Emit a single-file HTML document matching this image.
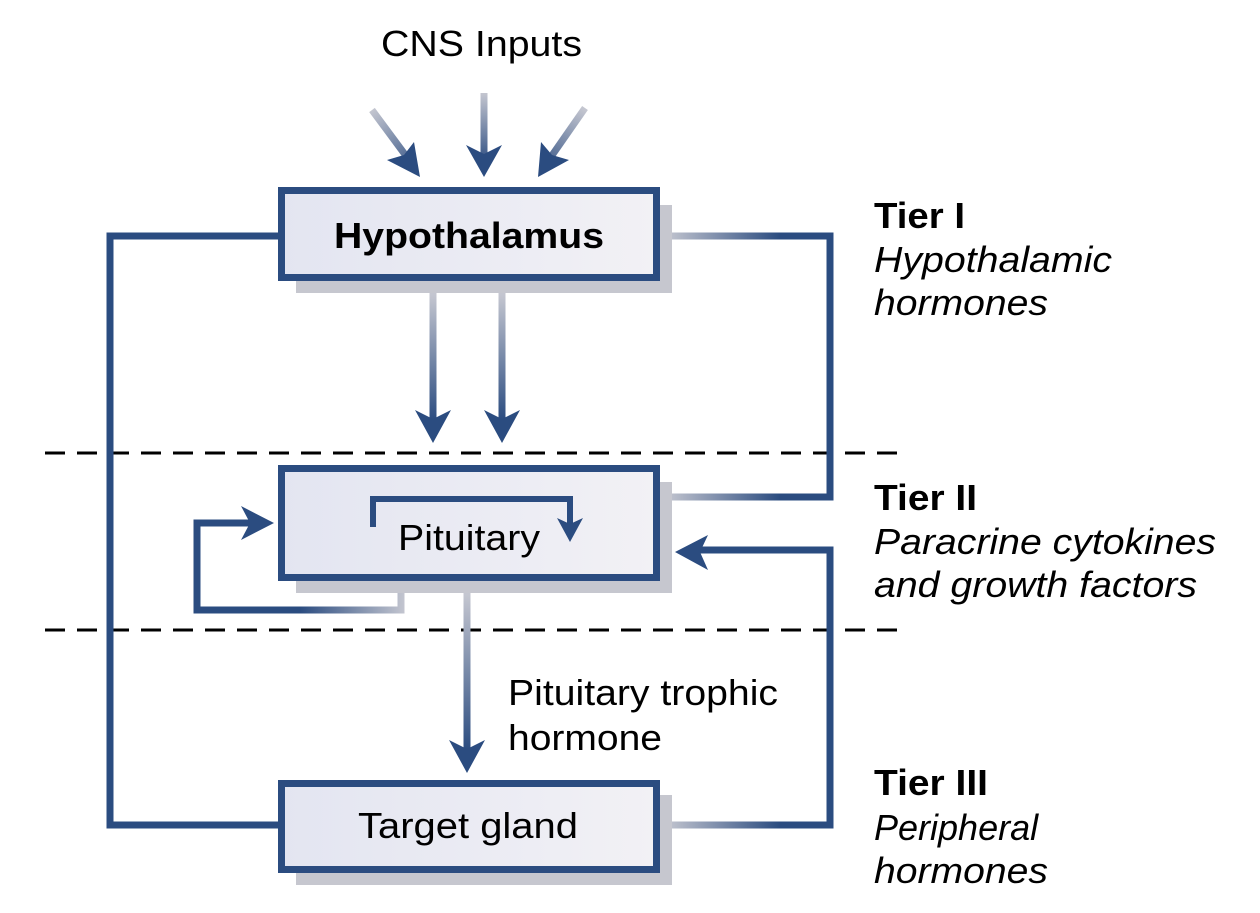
<!DOCTYPE html>
<html><head><style>
body{margin:0;background:#fff;}
svg text{font-family:"Liberation Sans",Arial,sans-serif;}
</style></head><body>
<svg width="1260" height="908" viewBox="0 0 1260 908" xmlns="http://www.w3.org/2000/svg">
<defs>
<linearGradient id="bx" x1="0" x2="1"><stop offset="0" stop-color="#e3e5f1"/><stop offset="1" stop-color="#f2f1f5"/></linearGradient>
<linearGradient id="gd0" gradientUnits="userSpaceOnUse" x1="0" y1="93" x2="0" y2="165"><stop offset="0" stop-color="#c4c6d0"/><stop offset="1" stop-color="#2b4c80"/></linearGradient>
<linearGradient id="gd1" gradientUnits="userSpaceOnUse" x1="372" y1="110" x2="420" y2="175"><stop offset="0" stop-color="#c4c6d0"/><stop offset="1" stop-color="#2b4c80"/></linearGradient>
<linearGradient id="gd2" gradientUnits="userSpaceOnUse" x1="585" y1="110" x2="540" y2="175"><stop offset="0" stop-color="#c4c6d0"/><stop offset="1" stop-color="#2b4c80"/></linearGradient>
<linearGradient id="gv" gradientUnits="userSpaceOnUse" x1="0" y1="295" x2="0" y2="420"><stop offset="0" stop-color="#c4c6d0"/><stop offset="1" stop-color="#2b4c80"/></linearGradient>
<linearGradient id="gp" gradientUnits="userSpaceOnUse" x1="0" y1="595" x2="0" y2="750"><stop offset="0" stop-color="#c4c6d0"/><stop offset="1" stop-color="#2b4c80"/></linearGradient>
<linearGradient id="gb" gradientUnits="userSpaceOnUse" x1="405" y1="0" x2="300" y2="0"><stop offset="0" stop-color="#c4c6d0"/><stop offset="1" stop-color="#2b4c80"/></linearGradient>
<linearGradient id="gh" gradientUnits="userSpaceOnUse" x1="665" y1="0" x2="780" y2="0"><stop offset="0" stop-color="#c4c6d0"/><stop offset="1" stop-color="#2b4c80"/></linearGradient>
</defs>
<text x="381" y="56" font-size="36" textLength="201" lengthAdjust="spacingAndGlyphs">CNS Inputs</text>
<line x1="372" y1="110" x2="412" y2="164" stroke="url(#gd1)" stroke-width="7"/>
<polygon points="420,177 387,160 404,155 414,142" fill="#2b4c80"/>
<line x1="484" y1="93" x2="484" y2="160" stroke="url(#gd0)" stroke-width="7"/>
<polygon points="484,177 466,145 484,154 502,145" fill="#2b4c80"/>
<line x1="585" y1="108" x2="546" y2="164" stroke="url(#gd2)" stroke-width="7"/>
<polygon points="538,177 541,142 552,155 569,160" fill="#2b4c80"/>
<line x1="45" y1="453" x2="898" y2="453" stroke="#000" stroke-width="3" stroke-dasharray="20,12"/>
<line x1="45" y1="630" x2="898" y2="630" stroke="#000" stroke-width="3" stroke-dasharray="20,12"/>
<polyline points="280,236 110,236 110,825 280,825" fill="none" stroke="#2b4c80" stroke-width="7"/>
<polyline points="665,236 830,236 830,497 665,497" fill="none" stroke="#2b4c80" stroke-width="7"/>
<line x1="665" y1="236" x2="780" y2="236" stroke="url(#gh)" stroke-width="7"/>
<line x1="665" y1="497" x2="780" y2="497" stroke="url(#gh)" stroke-width="7"/>
<polyline points="665,825 830,825 830,550 700,550" fill="none" stroke="#2b4c80" stroke-width="7"/>
<line x1="665" y1="825" x2="780" y2="825" stroke="url(#gh)" stroke-width="7"/>
<polygon points="675,552 708,535 700,552 708,570" fill="#2b4c80"/>
<rect x="296" y="205" width="376" height="88" fill="#c6c7cf"/>
<rect x="296" y="482" width="376" height="111" fill="#c6c7cf"/>
<rect x="296" y="795" width="376" height="90" fill="#c6c7cf"/>
<line x1="433" y1="293" x2="433" y2="420" stroke="url(#gv)" stroke-width="7"/>
<polygon points="433,443 415,410 433,419 451,410" fill="#2b4c80"/>
<line x1="502" y1="293" x2="502" y2="420" stroke="url(#gv)" stroke-width="7"/>
<polygon points="502,443 484,410 502,419 520,410" fill="#2b4c80"/>
<polyline points="401,593 401,610 197,610 197,523 250,523" fill="none" stroke="#2b4c80" stroke-width="7"/>
<polyline points="401,593 401,610 300,610" fill="none" stroke="url(#gb)" stroke-width="7"/>
<polygon points="274,523 241,506 250,523 241,540" fill="#2b4c80"/>
<line x1="467" y1="593" x2="467" y2="750" stroke="url(#gp)" stroke-width="7"/>
<polygon points="467,773 449,740 467,749 485,740" fill="#2b4c80"/>
<rect x="281.5" y="190.5" width="375" height="87" fill="url(#bx)" stroke="#2b4c80" stroke-width="7"/>
<rect x="281.5" y="468.5" width="375" height="109" fill="url(#bx)" stroke="#2b4c80" stroke-width="7"/>
<rect x="281.5" y="783.5" width="375" height="86" fill="url(#bx)" stroke="#2b4c80" stroke-width="7"/>
<polyline points="373,527 373,499 570,499 570,525" fill="none" stroke="#2b4c80" stroke-width="6"/>
<polygon points="570,542 557,518 570,524 583,518" fill="#2b4c80"/>
<g font-size="36">
<text x="334" y="248" font-weight="bold" textLength="270" lengthAdjust="spacingAndGlyphs">Hypothalamus</text>
<text x="398" y="550" textLength="142" lengthAdjust="spacingAndGlyphs">Pituitary</text>
<text x="358" y="838" textLength="220" lengthAdjust="spacingAndGlyphs">Target gland</text>
<text x="508" y="705" textLength="270" lengthAdjust="spacingAndGlyphs">Pituitary trophic</text>
<text x="508" y="750" textLength="154" lengthAdjust="spacingAndGlyphs">hormone</text>
<text x="874" y="228" font-weight="bold" textLength="91" lengthAdjust="spacingAndGlyphs">Tier I</text>
<text x="874" y="272" font-style="italic" textLength="238" lengthAdjust="spacingAndGlyphs">Hypothalamic</text>
<text x="874" y="315" font-style="italic" textLength="174" lengthAdjust="spacingAndGlyphs">hormones</text>
<text x="874" y="510" font-weight="bold" textLength="103" lengthAdjust="spacingAndGlyphs">Tier II</text>
<text x="874" y="554" font-style="italic" textLength="342" lengthAdjust="spacingAndGlyphs">Paracrine cytokines</text>
<text x="874" y="597" font-style="italic" textLength="323" lengthAdjust="spacingAndGlyphs">and growth factors</text>
<text x="874" y="795" font-weight="bold" textLength="114" lengthAdjust="spacingAndGlyphs">Tier III</text>
<text x="874" y="840" font-style="italic">Peripheral</text>
<text x="874" y="883" font-style="italic" textLength="174" lengthAdjust="spacingAndGlyphs">hormones</text>
</g>
</svg>
</body></html>
